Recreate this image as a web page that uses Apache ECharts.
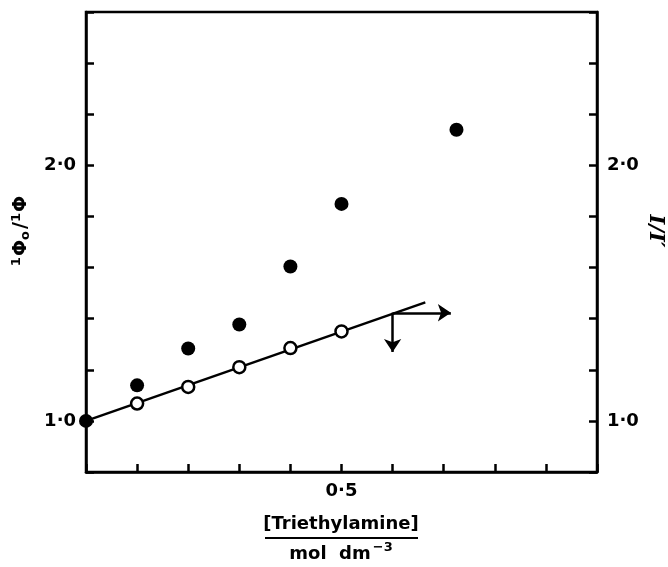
<!DOCTYPE html>
<html>
<head>
<meta charset="utf-8">
<style>
  html, body { margin: 0; padding: 0; background: #fff; }
  #chart { width: 668px; height: 567px; }
</style>
</head>
<body>
<div id="chart"></div>
<script src="https://cdn.jsdelivr.net/npm/echarts@6/dist/echarts.min.js"></script>
<script>
// [Triethylamine] / mol dm-3
var filledX = [0, 0.1, 0.2, 0.3, 0.4, 0.5, 0.725];
var filledY = [1.0, 1.139, 1.283, 1.377, 1.604, 1.849, 2.139];   // 1Φo/1Φ
var openX = [0.1, 0.2, 0.3, 0.4, 0.5];
var openY = [1.068, 1.133, 1.21, 1.285, 1.35];                 // I/I'
var fitLine = [[0, 1.0], [0.664, 1.464]];
var arrowFrom = [0.6, 1.423];
var arrowRight = [0.714, 1.423];
var arrowDown = [0.6, 1.27];
var xTickLabels = { '0.5': '0·5' };
var yTickLabels = { '1': '1·0', '2': '2·0' };

var FONT = 'DejaVu Sans';

function pairs(xs, ys) {
    return xs.map(function (x, i) { return [x, ys[i]]; });
}

var yAxisBase = {
    type: 'value',
    min: 0.8,
    max: 2.6,
    interval: 0.2,
    splitLine: { show: false },
    axisLine: { show: true, lineStyle: { color: '#000', width: 2.5 } },
    axisTick: { show: true, inside: true, length: 8, lineStyle: { color: '#000', width: 2.5 } },
    axisLabel: {
        color: '#000',
        fontFamily: FONT,
        fontWeight: 'bold',
        fontSize: 18,
        formatter: function (v) { return yTickLabels[String(Math.round(v * 10) / 10)] || ''; }
    }
};

var option = {
    animation: false,
    backgroundColor: '#fff',
    grid: {
        left: 86, right: 71, top: 12, bottom: 95,
        show: true, borderColor: '#000', borderWidth: 2.5
    },
    xAxis: {
        type: 'value',
        min: 0,
        max: 1.0,
        interval: 0.1,
        splitLine: { show: false },
        axisLine: { show: true, lineStyle: { color: '#000', width: 2.5 } },
        axisTick: { show: true, inside: true, length: 8, lineStyle: { color: '#000', width: 2.5 } },
        axisLabel: {
            color: '#000',
            fontFamily: FONT,
            fontWeight: 'bold',
            fontSize: 18,
            margin: 10,
            formatter: function (v) { return xTickLabels[String(Math.round(v * 10) / 10)] || ''; }
        }
    },
    yAxis: [
        Object.assign({}, yAxisBase, { position: 'left', axisLabel: Object.assign({}, yAxisBase.axisLabel, { margin: 10 }) }),
        Object.assign({}, yAxisBase, { position: 'right', axisLabel: Object.assign({}, yAxisBase.axisLabel, { margin: 10 }) })
    ],
    graphic: [
        {
            type: 'text', x: 21, y: 231, rotation: Math.PI / 2,
            style: {
                text: '{s|1}Φ{b|o}/{s|1}Φ',
                fill: '#000', font: 'bold 19px ' + FONT,
                align: 'center', verticalAlign: 'middle',
                rich: {
                    s: { fontSize: 13, fontWeight: 'bold', fontFamily: FONT, verticalAlign: 'top', padding: [0, 1, 9, 0] },
                    b: { fontSize: 13, fontWeight: 'bold', fontFamily: FONT, verticalAlign: 'bottom', padding: [7, 2, 0, 0] }
                }
            }
        },
        {
            type: 'text', x: 655, y: 231, rotation: -Math.PI / 2,
            style: {
                text: "I/I′", fill: '#000',
                font: 'italic bold 21px "DejaVu Serif"',
                align: 'center', verticalAlign: 'middle'
            }
        },
        {
            type: 'text', x: 341, y: 524,
            style: {
                text: '[Triethylamine]', fill: '#000', font: 'bold 18px ' + FONT,
                align: 'center', verticalAlign: 'middle'
            }
        },
        {
            type: 'line',
            shape: { x1: 265, y1: 538, x2: 418, y2: 538 },
            style: { stroke: '#000', lineWidth: 2 }
        },
        {
            type: 'text', x: 341, y: 554,
            style: {
                text: 'mol  dm{s|−3}', fill: '#000', font: 'bold 18px ' + FONT,
                align: 'center', verticalAlign: 'middle',
                rich: {
                    s: { fontSize: 13, fontWeight: 'bold', fontFamily: FONT, verticalAlign: 'top', padding: [0, 0, 12, 2] }
                }
            }
        }
    ],
    series: [
        {
            type: 'line',
            data: fitLine,
            showSymbol: false,
            symbol: 'none',
            lineStyle: { color: '#000', width: 2.5 },
            z: 2
        },
        {
            type: 'lines',
            coordinateSystem: 'cartesian2d',
            polyline: false,
            symbol: ['none', 'arrow'],
            symbolSize: [9, 13],
            lineStyle: { color: '#000', width: 2.5, opacity: 1 },
            data: [
                { coords: [arrowFrom, arrowRight] },
                { coords: [arrowFrom, arrowDown] }
            ],
            z: 2
        },
        {
            type: 'scatter',
            data: pairs(openX, openY),
            symbol: 'circle',
            symbolSize: 12,
            itemStyle: { color: '#fff', borderColor: '#000', borderWidth: 2.5, opacity: 1 },
            z: 3
        },
        {
            type: 'scatter',
            data: pairs(filledX, filledY),
            symbol: 'circle',
            symbolSize: 14,
            itemStyle: { color: '#000', opacity: 1 },
            z: 4
        }
    ]
};

echarts.init(document.getElementById('chart')).setOption(option);
</script>
</body>
</html>
